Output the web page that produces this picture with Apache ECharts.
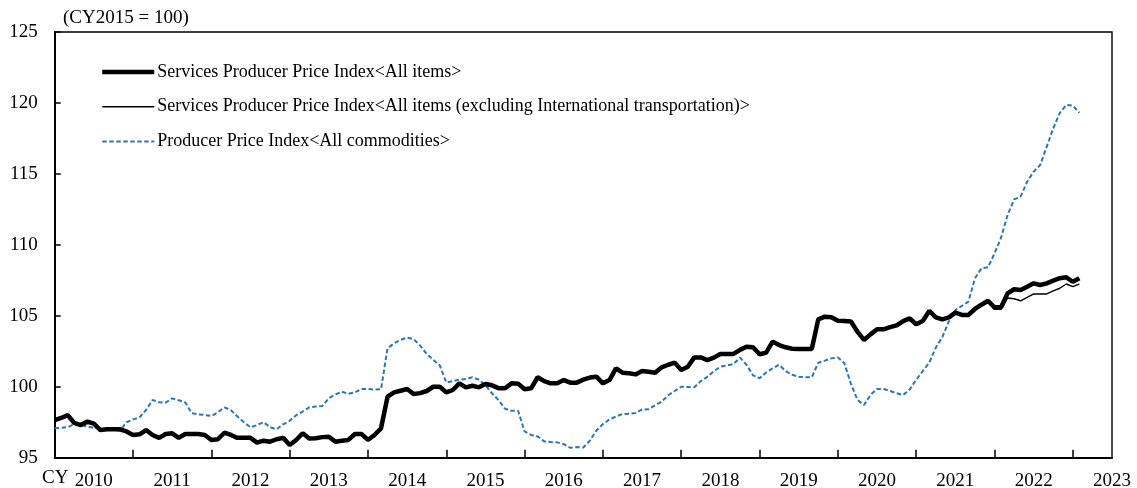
<!DOCTYPE html>
<html>
<head>
<meta charset="utf-8">
<script src="https://cdn.jsdelivr.net/npm/echarts@6/dist/echarts.min.js"></script>
<style>
html,body{margin:0;padding:0;background:#fff;}
#chart{width:1137px;height:488px;}
</style>
</head>
<body>
<div id="chart"></div>
<script>
// ---- data ----
const yearLabels = ['2010','2011','2012','2013','2014','2015','2016','2017','2018','2019','2020','2021','2022','2023'];
const seriesNames = [
  'Services Producer Price Index<All items>',
  'Services Producer Price Index<All items (excluding International transportation)>',
  'Producer Price Index<All commodities>'
];
const yTicks = [95, 100, 105, 110, 115, 120, 125];

const sppiAll = [
  97.65,97.8,98.0,97.45,97.3,97.55,97.4,96.95,97.0,97.0,97.0,96.85,
  96.6,96.65,96.95,96.6,96.4,96.67,96.72,96.4,96.67,96.67,96.67,96.6,
  96.25,96.3,96.76,96.6,96.4,96.4,96.4,96.06,96.2,96.13,96.3,96.4,
  95.9,96.25,96.72,96.35,96.37,96.45,96.48,96.13,96.2,96.25,96.67,96.67,
  96.25,96.6,97.07,99.3,99.6,99.72,99.84,99.49,99.55,99.7,100.0,100.0,
  99.6,99.77,100.24,99.96,100.07,99.96,100.19,100.1,99.9,99.89,100.24,100.22,
  99.82,99.89,100.67,100.4,100.24,100.24,100.47,100.29,100.29,100.5,100.65,100.71,
  100.24,100.47,101.3,100.99,100.95,100.87,101.11,101.05,100.99,101.37,101.55,101.7,
  101.18,101.41,102.07,102.07,101.88,102.05,102.31,102.31,102.31,102.6,102.82,102.78,
  102.29,102.4,103.18,102.94,102.78,102.68,102.66,102.66,102.66,104.75,104.94,104.9,
  104.65,104.63,104.6,103.88,103.3,103.69,104.05,104.05,104.2,104.33,104.63,104.82,
  104.4,104.63,105.34,104.89,104.75,104.89,105.22,105.06,105.06,105.48,105.78,106.06,
  105.6,105.6,106.58,106.87,106.82,107.05,107.29,107.17,107.29,107.48,107.65,107.71,
  107.4,107.64
];
const sppiExIntl = [
  97.65,97.8,98.0,97.45,97.3,97.55,97.4,96.95,97.0,97.0,97.0,96.85,
  96.6,96.65,96.95,96.6,96.4,96.67,96.72,96.4,96.67,96.67,96.67,96.6,
  96.25,96.3,96.76,96.6,96.4,96.4,96.4,96.06,96.2,96.13,96.3,96.4,
  95.9,96.25,96.72,96.35,96.37,96.45,96.48,96.13,96.2,96.25,96.67,96.67,
  96.25,96.6,97.07,99.3,99.6,99.72,99.84,99.49,99.55,99.7,100.0,100.0,
  99.6,99.77,100.24,99.96,100.07,99.96,100.19,100.1,99.9,99.89,100.24,100.22,
  99.82,99.89,100.67,100.4,100.24,100.3,100.55,100.35,100.29,100.5,100.65,100.71,
  100.24,100.47,101.3,100.99,100.95,100.87,101.11,101.05,100.99,101.37,101.55,101.7,
  101.18,101.41,102.07,102.07,101.88,102.05,102.31,102.31,102.31,102.6,102.82,102.78,
  102.29,102.4,103.18,102.94,102.78,102.68,102.66,102.66,102.66,104.75,104.94,104.9,
  104.65,104.63,104.6,103.88,103.3,103.69,104.05,104.05,104.2,104.33,104.63,104.82,
  104.4,104.63,105.34,104.89,104.75,104.89,105.22,105.0,104.98,105.4,105.7,105.95,
  105.45,105.45,106.25,106.2,106.06,106.3,106.54,106.54,106.54,106.75,106.94,107.24,
  107.05,107.24
];
const ppiAll = [
  97.07,97.1,97.15,97.37,97.3,97.2,97.1,97.05,97.02,96.95,96.9,97.5,
  97.7,97.84,98.36,99.07,98.9,98.88,99.18,99.05,98.9,98.13,98.05,98.01,
  97.94,98.2,98.55,98.35,97.9,97.5,97.14,97.3,97.5,97.15,97.0,97.35,
  97.6,98.0,98.25,98.55,98.6,98.64,99.19,99.45,99.65,99.5,99.6,99.85,
  99.85,99.8,99.82,102.71,103.06,103.3,103.46,103.35,102.9,102.31,101.9,101.5,
  100.3,100.4,100.5,100.55,100.67,100.5,100.1,99.54,99.07,98.45,98.3,98.3,
  96.85,96.6,96.5,96.15,96.1,96.08,95.95,95.7,95.75,95.72,96.2,96.9,
  97.37,97.7,97.9,98.08,98.1,98.15,98.4,98.41,98.7,98.95,99.4,99.7,
  100.0,99.98,99.96,100.4,100.7,101.1,101.41,101.5,101.6,102.05,101.55,100.8,
  100.6,101.0,101.3,101.55,101.1,100.85,100.7,100.67,100.67,101.7,101.84,102.0,
  102.07,101.65,100.2,99.07,98.71,99.42,99.85,99.84,99.7,99.54,99.42,99.8,
  100.5,101.1,101.7,102.75,103.5,104.6,105.4,105.7,106.0,107.64,108.35,108.42,
  109.4,110.5,112.1,113.2,113.4,114.45,115.16,115.63,116.92,118.21,119.3,119.86,
  119.81,119.31
];

// monthly categories Jan 2010 .. Jul 2023 (axis extent)
const months = [];
yearLabels.forEach(function (y) {
  for (let m = 1; m <= 12; m++) months.push(y + '-' + (m < 10 ? '0' + m : m));
});
const categories = months.slice(0, 163);

const FONT = "'Liberation Serif','Times New Roman',serif";
const BLUE = '#2e75b6';

const chart = echarts.init(document.getElementById('chart'), null, {renderer: 'canvas'});
chart.setOption({
  animation: false,
  backgroundColor: '#fff',
  textStyle: {fontFamily: FONT, color: '#000'},
  grid: {
    left: 54.7, right: 25, top: 32, bottom: 30.3,
    outerBoundsMode: 'none', containLabel: false,
    show: true, borderColor: '#000', borderWidth: 1.4, backgroundColor: 'transparent'
  },
  legend: {
    orient: 'vertical',
    left: 100, top: 62, padding: 0,
    itemWidth: 52, itemHeight: 20, itemGap: 14.7,
    textStyle: {fontFamily: FONT, fontSize: 18, color: '#000', lineHeight: 20, padding: [0, 0, 0, -2]},
    data: [
      {name: seriesNames[0], itemStyle: {opacity: 0}, lineStyle: {color: '#000', width: 4.5}},
      {name: seriesNames[1], itemStyle: {opacity: 0}, lineStyle: {color: '#000', width: 1.6}},
      {name: seriesNames[2], itemStyle: {opacity: 0}, lineStyle: {color: BLUE, width: 2, type: [4.5, 2.5]}}
    ]
  },
  graphic: [
    {type: 'text', left: 63, top: 9, style: {text: '(CY2015 = 100)', font: '19px ' + FONT, fill: '#000'}},
    {type: 'text', left: 42, top: 469, style: {text: 'CY', font: '19px ' + FONT, fill: '#000'}}
  ],
  xAxis: {
    type: 'category',
    data: categories,
    boundaryGap: false,
    axisLine: {lineStyle: {color: '#000', width: 2}},
    axisTick: {
      inside: true, length: 8, lineStyle: {color: '#000', width: 1.5},
      interval: function (i) { return i % 12 === 0 && i > 0; }
    },
    axisLabel: {
      interval: function (i) { return i % 12 === 6; },
      formatter: function (v) { return v.slice(0, 4); },
      fontFamily: FONT, fontSize: 19, color: '#000', margin: 14
    },
    splitLine: {show: false}
  },
  yAxis: {
    type: 'value',
    min: yTicks[0], max: yTicks[yTicks.length - 1], interval: 5,
    axisLine: {show: true, lineStyle: {color: '#000', width: 2}},
    axisTick: {show: true, inside: true, length: 6, lineStyle: {color: '#000', width: 1.5}},
    axisLabel: {fontFamily: FONT, fontSize: 19, color: '#000', margin: 17},
    splitLine: {show: false}
  },
  series: [
    {
      name: seriesNames[0], type: 'line', data: sppiAll, symbol: 'none', z: 3,
      lineStyle: {color: '#000', width: 4.5}, itemStyle: {color: '#000'}
    },
    {
      name: seriesNames[1], type: 'line', data: sppiExIntl, symbol: 'none', z: 4,
      lineStyle: {color: '#000', width: 1.4}, itemStyle: {color: '#000'}
    },
    {
      name: seriesNames[2], type: 'line', data: ppiAll, symbol: 'none', z: 2,
      lineStyle: {color: BLUE, width: 2, type: [4.5, 2.5]}, itemStyle: {color: BLUE}
    }
  ]
});
</script>
</body>
</html>
